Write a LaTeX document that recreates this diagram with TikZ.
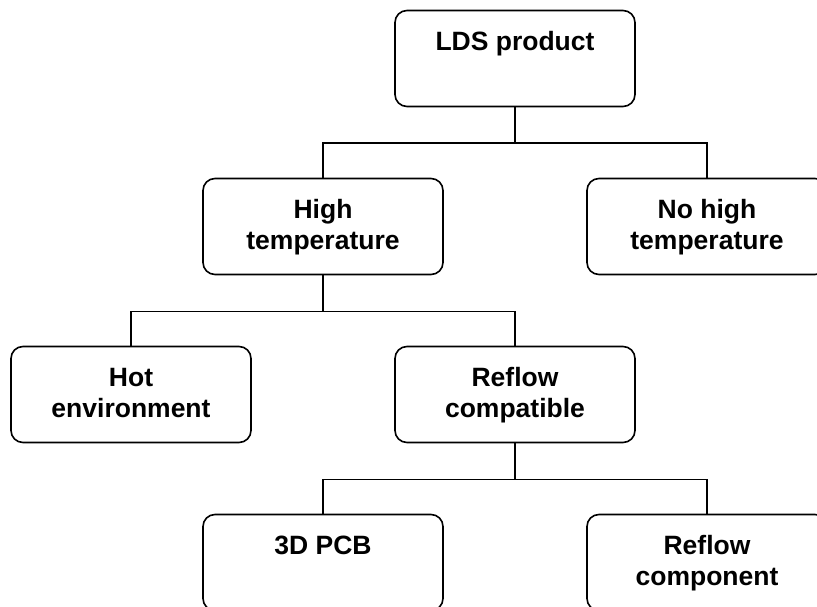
\documentclass[tikz,border=0pt]{standalone}
\usepackage{fontspec}
\setmainfont{Liberation Sans}
\tikzset{
    treebox/.style = {draw=black, line width=1.6pt, rounded corners=12pt, inner sep=0pt,
        minimum width=240pt, minimum height=96pt, font=\bfseries\fontsize{26.5}{31}\selectfont}
}
\newcommand{\boxtext}[1]{\parbox[t][60pt][t]{236pt}{\centering\strut #1}}

\begin{document}
\begin{tikzpicture}[-,level/.style={sibling distance = 384pt, level distance = 168pt},
                    edge from parent/.style={draw, line width=1.6pt},
                    edge from parent path={(\tikzparentnode.south) -- ++(0,-36pt) -| (\tikzchildnode.north)}]
                    \useasboundingbox (0,0) rectangle (817pt,-607pt);
                    \clip (0,0) rectangle (817pt,-607pt);
                    \node (lds)
                    [treebox] at (515pt,-58.5pt) {\boxtext{LDS product}}
                    child{
                        node (hight) [treebox] {\boxtext{High\\temperature}}
                        child{ node (hotenv) [treebox] {\boxtext{Hot\\environment}} }
                        child{
                            node (reflowcomp) [treebox] {\boxtext{Reflow\\compatible}}
                            child{ node (pcb) [treebox] {\boxtext{3D PCB}} }
                            child{ node (reflowpart) [treebox] {\boxtext{Reflow\\component}} }
                        }
                    }
                    child{ node (nohight) [treebox] {\boxtext{No high\\temperature}} }
                    ;
\end{tikzpicture}
\end{document}
